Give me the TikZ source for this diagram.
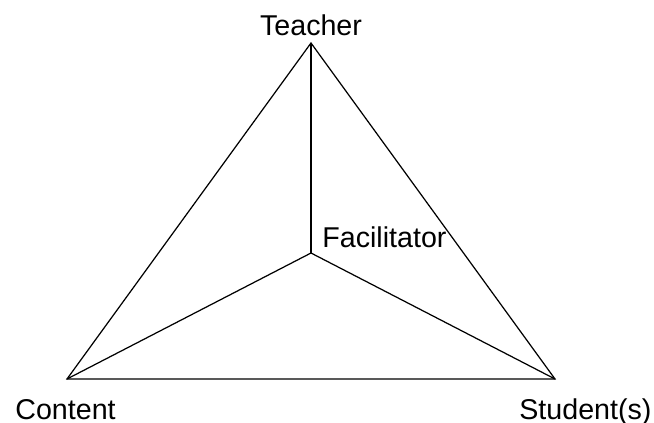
\documentclass[tikz,border=0pt]{standalone}
\usepackage{fontspec}
\setmainfont{Liberation Sans}
\usetikzlibrary{positioning}

\begin{document}
\begin{tikzpicture}[
  x=0.02cm, y=-0.02cm,
  label/.style={inner sep=0pt, font=\fontsize{16.3}{19}\selectfont},
  edge/.style={draw, line width=0.7pt, line join=miter}
]
\useasboundingbox (0,0) rectangle (654,423);

\coordinate (teacher)  at (311,43);
\coordinate (content)  at (67,379);
\coordinate (student)  at (555,379);
\coordinate (facil)    at (311,253);

\node[label, anchor=base]      (teacherlbl) at (311,35)  {Teacher};
\node[label, anchor=base west] (contentlbl) at (15,419)  {Content};
\node[label, anchor=base west] (studentlbl) at (519,419) {Student(s)};
\node[label, anchor=base west] (faciltlbl)  at (322,247) {Facilitator};

\draw[edge] (teacher) -- (content) -- (student) -- cycle;
\draw[edge] (teacher) -- (facil);
\draw[edge] (content) -- (facil);
\draw[edge] (student) -- (facil);
\end{tikzpicture}
\end{document}
